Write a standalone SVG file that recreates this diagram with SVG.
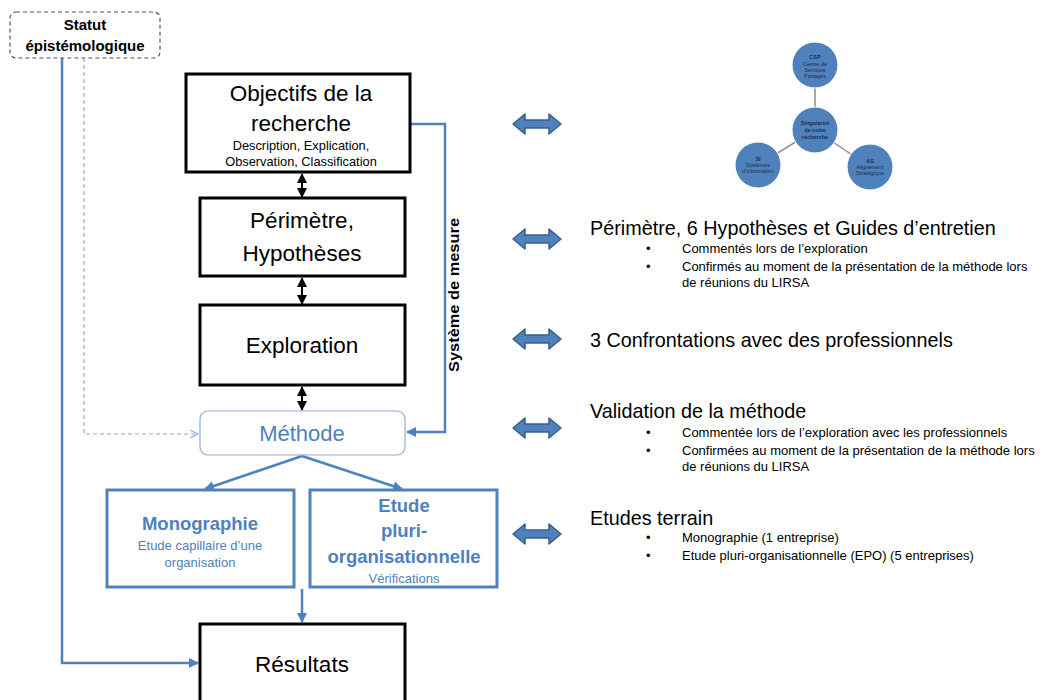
<svg xmlns="http://www.w3.org/2000/svg" width="1042" height="700" viewBox="0 0 1042 700">
<style>
text{font-family:"Liberation Sans",Arial,sans-serif;}
.box{fill:#fff;stroke:#000;stroke-width:3;}
.bbox{fill:#fff;stroke:#4f81bd;stroke-width:3;}
.big{font-size:22.5px;fill:#000;text-anchor:middle;}
.sm{font-size:12.8px;fill:#000;text-anchor:middle;}
.bt{font-size:18.5px;font-weight:bold;fill:#4f81bd;text-anchor:middle;}
.bs{font-size:13px;fill:#4f81bd;text-anchor:middle;}
.rh{font-size:19.8px;fill:#000;}
.rs{font-size:13px;fill:#000;}
.con{fill:none;stroke:#4f81bd;stroke-width:2.5;}
.blk{fill:none;stroke:#000;stroke-width:2;}
.circ{fill:#4f81bd;stroke:#fff;stroke-width:1;}
.ct{font-size:5.5px;fill:#1f2d4d;text-anchor:middle;}
.ctb{font-size:5.5px;fill:#1f2d4d;text-anchor:middle;font-weight:bold;}
</style>
<defs>
<marker id="ab" viewBox="0 0 10 10" refX="9" refY="5" markerWidth="5" markerHeight="5" orient="auto-start-reverse"><path d="M0,0 L10,5 L0,10 Z" fill="#000"/></marker>
<marker id="aBlue" viewBox="0 0 10 10" refX="9" refY="5" markerWidth="4" markerHeight="4" orient="auto"><path d="M0,0 L10,5 L0,10 Z" fill="#4f81bd"/></marker>
<marker id="aOpen" viewBox="0 0 10 10" refX="9" refY="5" markerWidth="8" markerHeight="8" orient="auto"><path d="M1,1 L9,5 L1,9" fill="none" stroke="#8eaedb" stroke-width="1.2"/></marker>
<path id="dbl" d="M0,0 L12,-10 L12,-4 L36,-4 L36,-10 L48,0 L36,10 L36,4 L12,4 L12,10 Z" fill="#4f81bd" stroke="#385d8a" stroke-width="1.5" stroke-linejoin="round"/>
</defs>

<g id="connectors">
<path class="con" d="M62,58 V663 H198" marker-end="url(#aBlue)"/>
<path d="M84,58 V434 H198" fill="none" stroke="#8eaedb" stroke-width="1.2" stroke-dasharray="4,3" marker-end="url(#aOpen)"/>
<line class="blk" x1="302" y1="174" x2="302" y2="197" marker-start="url(#ab)" marker-end="url(#ab)"/>
<line class="blk" x1="302" y1="278" x2="302" y2="304" marker-start="url(#ab)" marker-end="url(#ab)"/>
<line class="blk" x1="302" y1="387" x2="302" y2="410" marker-start="url(#ab)" marker-end="url(#ab)"/>
<path class="con" d="M411,124 H445 V432 H407" marker-end="url(#aBlue)"/>
<line class="con" x1="302" y1="456" x2="205" y2="489" marker-end="url(#aBlue)"/>
<line class="con" x1="302" y1="456" x2="402" y2="489" marker-end="url(#aBlue)"/>
<line class="con" x1="302" y1="589" x2="302" y2="622" marker-end="url(#aBlue)"/>
<text transform="translate(459,295) rotate(-90)" textLength="154" lengthAdjust="spacingAndGlyphs" style="font-size:15.5px;font-weight:bold;text-anchor:middle;fill:#000;">Système de mesure</text>
<use href="#dbl" x="513" y="124"/>
<use href="#dbl" x="513" y="239"/>
<use href="#dbl" x="513" y="339"/>
<use href="#dbl" x="513" y="428"/>
<use href="#dbl" x="513" y="534"/>
</g>

<g id="statut">
<rect x="10" y="12" width="150" height="46" rx="6" fill="#fff" stroke="#555" stroke-width="1.2" stroke-dasharray="4,3"/>
<text x="85" y="30" style="font-size:15px;font-weight:bold;text-anchor:middle;">Statut</text>
<text x="85" y="51" style="font-size:15px;font-weight:bold;text-anchor:middle;">épistémologique</text>
</g>

<g id="objectifs">
<rect class="box" x="186" y="74" width="224" height="98"/>
<text class="big" x="301" y="101">Objectifs de la</text>
<text class="big" x="301" y="131">recherche</text>
<text class="sm" x="301" y="150">Description, Explication,</text>
<text class="sm" x="301" y="166">Observation, Classification</text>
</g>

<g id="perimetre">
<rect class="box" x="200" y="198" width="205" height="78"/>
<text class="big" x="302" y="228">Périmètre,</text>
<text class="big" x="302" y="261">Hypothèses</text>
</g>

<g id="exploration">
<rect class="box" x="200" y="305" width="205" height="80"/>
<text class="big" x="302" y="353">Exploration</text>
</g>

<g id="methode">
<rect x="200" y="411" width="205" height="44" rx="8" fill="#fff" stroke="#8eaedb" stroke-width="1.2"/>
<text x="302" y="441" style="font-size:22px;fill:#4f81bd;text-anchor:middle;">Méthode</text>
</g>

<g id="monographie">
<rect class="bbox" x="107" y="490" width="187" height="97"/>
<text class="bt" x="200" y="530">Monographie</text>
<text class="bs" x="200" y="550">Etude capillaire d’une</text>
<text class="bs" x="200" y="567">organisation</text>
</g>

<g id="epo">
<rect class="bbox" x="310" y="490" width="187" height="97"/>
<text class="bt" x="404" y="512">Etude</text>
<text class="bt" x="404" y="537">pluri-</text>
<text class="bt" x="404" y="563">organisationnelle</text>
<text class="bs" x="404" y="583">Vérifications</text>
</g>

<g id="resultats">
<rect class="box" x="200" y="624" width="205" height="80"/>
<text class="big" x="302" y="672">Résultats</text>
</g>

<g id="singularite">
<line x1="815" y1="65" x2="815" y2="130" stroke="#8c8c8c" stroke-width="1.5"/>
<line x1="815" y1="130" x2="758" y2="165" stroke="#8c8c8c" stroke-width="1.5"/>
<line x1="815" y1="130" x2="870" y2="167" stroke="#8c8c8c" stroke-width="1.5"/>
<circle class="circ" cx="815" cy="65" r="23"/>
<circle class="circ" cx="815" cy="130" r="23"/>
<circle class="circ" cx="758" cy="165" r="23"/>
<circle class="circ" cx="870" cy="167" r="23"/>
<text class="ctb" x="815" y="59">CSP</text>
<text class="ct" x="815" y="66">Centre de</text>
<text class="ct" x="815" y="72">Services</text>
<text class="ct" x="815" y="78">Partagés</text>
<text class="ctb" x="815" y="125">Singularité</text>
<text class="ctb" x="815" y="132">de notre</text>
<text class="ctb" x="815" y="139">recherche</text>
<text class="ctb" x="758" y="161">SI</text>
<text class="ct" x="758" y="167">Systèmes</text>
<text class="ct" x="758" y="173">d’information</text>
<text class="ctb" x="870" y="163">AS</text>
<text class="ct" x="870" y="169">Alignement</text>
<text class="ct" x="870" y="175">Stratégique</text>
</g>

<g id="right-texts">
<text class="rh" x="590" y="235">Périmètre, 6 Hypothèses  et Guides d’entretien</text>
<text class="rs" x="646" y="253">•</text>
<text class="rs" x="682" y="253">Commentés lors de l’exploration</text>
<text class="rs" x="646" y="271">•</text>
<text class="rs" x="682" y="271">Confirmés au moment de la présentation de la méthode lors</text>
<text class="rs" x="682" y="287">de réunions du LIRSA</text>

<text class="rh" x="590" y="347">3 Confrontations avec des professionnels</text>

<text class="rh" x="590" y="418">Validation de la méthode</text>
<text class="rs" x="646" y="437">•</text>
<text class="rs" x="682" y="437">Commentée lors de l’exploration avec les professionnels</text>
<text class="rs" x="646" y="455">•</text>
<text class="rs" x="682" y="455">Confirmées au moment de la présentation de la méthode lors</text>
<text class="rs" x="682" y="471">de réunions du LIRSA</text>

<text class="rh" x="590" y="525">Etudes terrain</text>
<text class="rs" x="646" y="542">•</text>
<text class="rs" x="682" y="542">Monographie  (1 entreprise)</text>
<text class="rs" x="646" y="560">•</text>
<text class="rs" x="682" y="560">Etude pluri-organisationnelle (EPO) (5 entreprises)</text>
</g>
</svg>
